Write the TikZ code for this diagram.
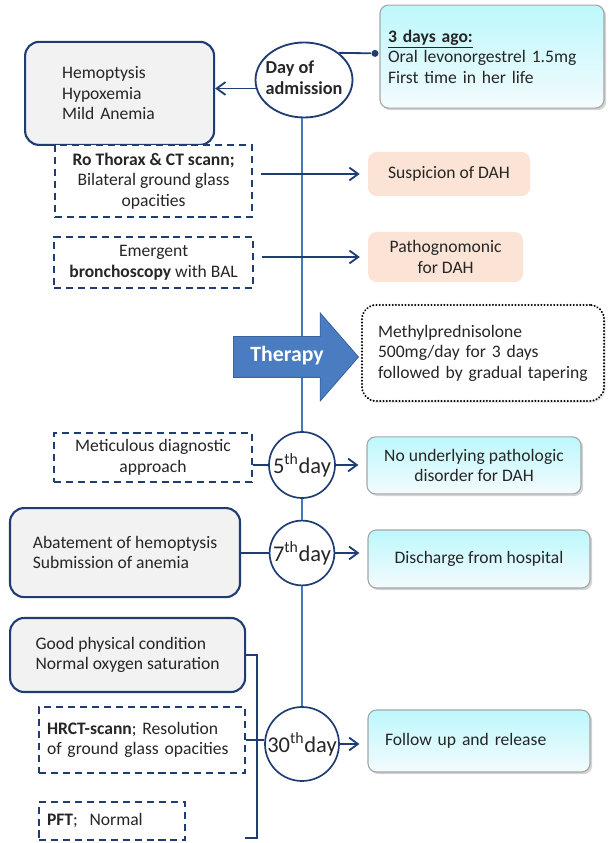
\documentclass[tikz,border=0pt]{standalone}
\usepackage{fontspec}
\setmainfont{Carlito}
\usetikzlibrary{shapes.geometric,shapes.arrows,shadows,arrows.meta}
\definecolor{navy}{HTML}{1F3D73}
\definecolor{tl}{HTML}{4677BA}
\definecolor{grayfill}{HTML}{F2F2F2}
\definecolor{cyanfill}{HTML}{E2F5FB}
\definecolor{peach}{HTML}{FBE4D5}
\definecolor{thera}{HTML}{4A7CC2}
\definecolor{ink}{HTML}{262626}
\hyphenpenalty=10000
\exhyphenpenalty=10000

\begin{document}
\begin{tikzpicture}[
  font=\fontsize{12.5}{14.6}\selectfont, text=ink,
  graybox/.style={draw=navy, line width=1.5pt, fill=grayfill, rounded corners=10pt, align=left},
  dashbox/.style={draw=navy, line width=1.3pt, dash pattern=on 5pt off 3.5pt, fill=white, align=center},
  cyanbox/.style={draw=gray!70, line width=0.8pt, rounded corners=6pt, top color=cyanfill!80!cyan!90!white, bottom color=cyanfill!40, drop shadow={opacity=0.35,shadow xshift=1.5pt,shadow yshift=-1.5pt}, align=center},
  peachbox/.style={fill=peach, rounded corners=6pt, align=center},
  daycirc/.style={circle, draw=navy, line width=1.2pt, fill=white, inner sep=0pt, font=\fontsize{16}{19}\selectfont},
  tline/.style={draw=tl, line width=1.5pt},
  link/.style={draw=navy, line width=1.3pt},
  arr/.style={link, -{Straight Barb[length=2.2mm,width=3.2mm]}},
]
\useasboundingbox (0,0) rectangle (15.2,21.075);

\node[ellipse, draw=navy, line width=1.3pt, fill=white, minimum width=2.425cm, minimum height=1.875cm, inner sep=0pt, font=\fontsize{13}{15}\selectfont\bfseries] (admit) at (7.6,19.075) {\makebox[0pt]{\begin{tabular}{@{}l@{}}Day of\\admission\end{tabular}}};
\node[daycirc, minimum size=1.65cm] (d5) at (7.55,9.45) {\makebox[0pt]{5\textsuperscript{th}day}};
\node[daycirc, minimum size=1.62cm] (d7) at (7.55,7.25) {\makebox[0pt]{7\textsuperscript{th}day}};
\node[daycirc, minimum size=1.85cm] (d30) at (7.55,2.475) {\makebox[0pt]{30\textsuperscript{th}day}};
\draw[tline] (admit.south -| d5.north) -- (d5.north);
\draw[tline] (d5.south) -- (d7.north);
\draw[tline] (d7.south) -- (d30.north);

\node[graybox, minimum width=4.725cm, minimum height=2.575cm, text width=2.875cm, inner xsep=0.925cm] (sympt) at (2.99,18.74) {Hemoptysis\\Hypoxemia\\Mild Anemia};
\node[cyanbox, minimum width=5.6cm, minimum height=2.575cm, text width=5.2cm, align=left] (ago) at (12.3,19.66) {\underline{\textbf{3 days ago:}}\\Oral levonorgestrel 1.5mg\\First time in her life};
\node[circle, fill=navy, inner sep=0pt, minimum size=5pt] (pin) at (9.375,19.74) {};
\draw[link] (admit.north east) -- (pin);
\draw[arr] (admit.190) -- (admit.190 -| sympt.east);

\node[dashbox, minimum width=4.925cm, minimum height=1.8cm] (ct) at (3.84,16.55) {\textbf{Ro Thorax \& CT scann;}\\Bilateral ground glass\\opacities};
\node[peachbox, minimum width=4.05cm, minimum height=1.1cm] (susp) at (11.225,16.725) {Suspicion of DAH};
\draw[arr, shorten <=2mm, shorten >=2mm] (ct.east |- susp.west) -- (susp.west);

\node[dashbox, minimum width=4.975cm, minimum height=1.275cm] (bal) at (3.84,14.51) {Emergent\\\textbf{bronchoscopy} with BAL};
\node[peachbox, minimum width=3.875cm, minimum height=1.25cm] (patho) at (11.14,14.65) {Pathognomonic\\for DAH};
\draw[arr, shorten <=2mm, shorten >=2mm] (bal.east |- patho.west) -- (patho.west);

\node[single arrow, fill=thera, draw=thera!80!black, line width=0.6pt, single arrow head extend=0.59cm, single arrow tip angle=98, minimum height=3.125cm, text height=0.35cm, text depth=0.1cm, inner ysep=0.275cm, inner xsep=2pt, font=\fontsize{15.5}{18}\selectfont\bfseries, text=white, anchor=tip] (thrpy) at (8.975,12.15) {Therapy};
\node[draw=black, line width=1.5pt, dash pattern=on 0.1pt off 2.2pt, line cap=round, rounded corners=10pt, fill=white, minimum width=6.05cm, minimum height=2.4cm, text width=5.25cm, inner xsep=0.4cm, align=left, drop shadow={opacity=0.2,shadow xshift=1.2pt,shadow yshift=-1.2pt}] (ther) at (12.075,12.25) {Methylprednisolone\\500mg/day for 3 days\\followed by gradual tapering};

\node[dashbox, minimum width=4.95cm, minimum height=1.225cm] (meti) at (3.825,9.64) {Meticulous diagnostic\\approach};
\node[cyanbox, minimum width=5.35cm, minimum height=1.425cm] (nod) at (11.85,9.44) {No underlying pathologic\\disorder for DAH};
\draw[link] (meti.east |- d5.west) -- (d5.west);
\draw[arr, shorten >=2mm] (d5.east) -- (d5.east -| nod.west);

\node[graybox, minimum width=5.75cm, minimum height=2.225cm] (abate) at (3.125,7.26) {Abatement of hemoptysis\\Submission of anemia};
\node[cyanbox, minimum width=5.55cm, minimum height=1.45cm] (disc) at (11.975,7.1) {Discharge from hospital};
\draw[link] (abate.east) -- (abate.east -| d7.west);
\draw[arr, shorten >=2mm] (d7.east) -- (d7.east -| disc.west);

\node[graybox, minimum width=5.875cm, minimum height=1.85cm] (good) at (3.19,4.7) {Good physical condition\\Normal oxygen saturation};
\node[dashbox, align=left, minimum width=5.15cm, minimum height=1.65cm, text width=4.75cm, inner xsep=0.2cm] (hrct) at (3.55,2.575) {\textbf{HRCT-scann}; Resolution\\of ground glass opacities};
\node[dashbox, align=left, minimum width=3.65cm, minimum height=0.95cm, text width=3.25cm, inner xsep=0.2cm] (pft) at (2.8,0.55) {\textbf{PFT};\ \ Normal};
\node[cyanbox, align=left, minimum width=5.55cm, minimum height=1.55cm, text width=4.7cm, inner xsep=0.425cm] (follow) at (11.975,2.55) {Follow up and release};
\coordinate (brk) at (6.425,0.125);
\draw[link] (good.east) -| (brk) -- ++(-0.3,0);
\draw[link] (hrct.east) -- (hrct.east -| d30.west);
\draw[arr, shorten >=2mm] (d30.east) -- (d30.east -| follow.west);
\end{tikzpicture}
\end{document}
